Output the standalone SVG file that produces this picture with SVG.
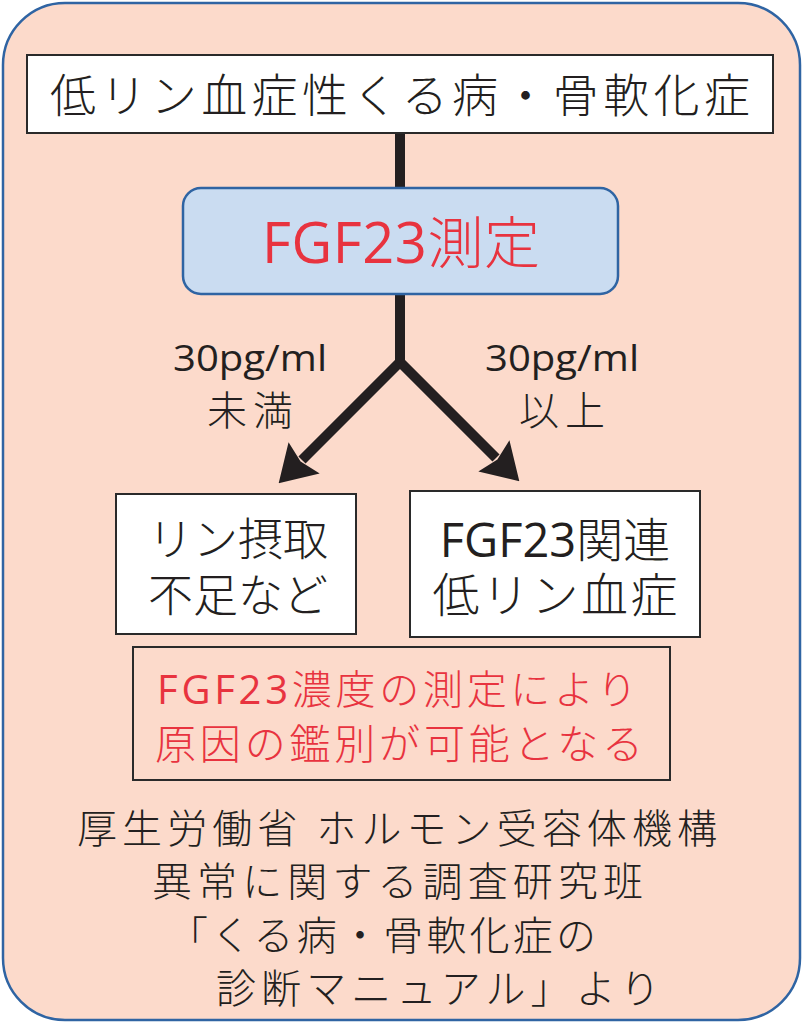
<svg xmlns="http://www.w3.org/2000/svg" width="803" height="1023" viewBox="0 0 803 1023">
<defs>
<style>
.jp{font-family:"Noto Sans CJK JP","Noto Sans",sans-serif;font-weight:300;fill:#231f20}
.lat{font-family:"Open Sans","Noto Sans",sans-serif;font-weight:400}
.red{fill:#e8333f}
.box{fill:#ffffff;stroke:#2a2a2a;stroke-width:2}
.conn{fill:none;stroke:#231f20;stroke-width:10}
</style>
<marker id="ah" viewBox="0 0 36 44" markerWidth="36" markerHeight="44" markerUnits="userSpaceOnUse" refX="3" refY="22" orient="auto">
<path d="M0,0 L36,22 L0,44 L5,22 Z" fill="#231f20"/>
</marker>
</defs>
<rect x="3" y="3" width="797" height="1017" rx="62" ry="62" fill="#fcdacb" stroke="#2f64a3" stroke-width="2.5"/>
<g id="connectors">
<path class="conn" d="M400,133 V190"/>
<path class="conn" d="M400,292 V362 L302,460" marker-end="url(#ah)"/>
<path class="conn" d="M400,362 L496,458" marker-end="url(#ah)"/>
</g>
<g id="title">
<rect class="box" x="27" y="55" width="746" height="78"/>
<text class="jp" x="400" y="112" font-size="46" text-anchor="middle" textLength="700" lengthAdjust="spacing">低リン血症性くる病・骨軟化症</text>
</g>
<g id="measure">
<rect x="183" y="188" width="435" height="106" rx="18" ry="18" fill="#cadcf1" stroke="#2f64a3" stroke-width="2.5"/>
<text class="jp red" x="401" y="263" font-size="56" text-anchor="middle" textLength="278" lengthAdjust="spacing"><tspan class="lat red">FGF23</tspan>測定</text>
</g>
<g id="label-low">
<text class="lat" x="250" y="371" font-size="36" text-anchor="middle" fill="#231f20" textLength="154" lengthAdjust="spacingAndGlyphs">30pg/ml</text>
<text class="jp" x="250" y="425" font-size="40" text-anchor="middle" textLength="86" lengthAdjust="spacing">未満</text>
</g>
<g id="label-high">
<text class="lat" x="562" y="371" font-size="36" text-anchor="middle" fill="#231f20" textLength="154" lengthAdjust="spacingAndGlyphs">30pg/ml</text>
<text class="jp" x="562" y="425" font-size="40" text-anchor="middle" textLength="86" lengthAdjust="spacing">以上</text>
</g>
<g id="node-intake">
<rect class="box" x="116" y="494" width="240" height="140"/>
<text class="jp" x="238" y="556" font-size="45" text-anchor="middle">リン摂取</text>
<text class="jp" x="238" y="612" font-size="45" text-anchor="middle">不足など</text>
</g>
<g id="node-fgf23">
<rect class="box" x="410" y="491" width="290" height="146"/>
<text class="jp" x="555" y="557" font-size="47" text-anchor="middle"><tspan class="lat" fill="#231f20">FGF23</tspan>関連</text>
<text class="jp" x="555" y="612" font-size="47" text-anchor="middle" textLength="245" lengthAdjust="spacing">低リン血症</text>
</g>
<g id="node-note">
<rect x="133" y="647" width="537" height="133" fill="#fcdacb" stroke="#2a2a2a" stroke-width="2"/>
<text class="jp red" x="397" y="704" font-size="40" text-anchor="middle" textLength="480" lengthAdjust="spacing"><tspan class="lat red">FGF23</tspan>濃度の測定により</text>
<text class="jp red" x="399" y="759" font-size="41" text-anchor="middle" textLength="488" lengthAdjust="spacing">原因の鑑別が可能となる</text>
</g>
<g id="source">
<text class="jp" x="77" y="843" font-size="40" textLength="640" lengthAdjust="spacing">厚生労働省 ホルモン受容体機構</text>
<text class="jp" x="152" y="896" font-size="40" textLength="491" lengthAdjust="spacing">異常に関する調査研究班</text>
<text class="jp" x="168" y="950" font-size="40" textLength="428" lengthAdjust="spacing">「くる病・骨軟化症の</text>
<text class="jp" x="216" y="1003" font-size="40" textLength="444" lengthAdjust="spacing">診断マニュアル」より</text>
</g>
</svg>
